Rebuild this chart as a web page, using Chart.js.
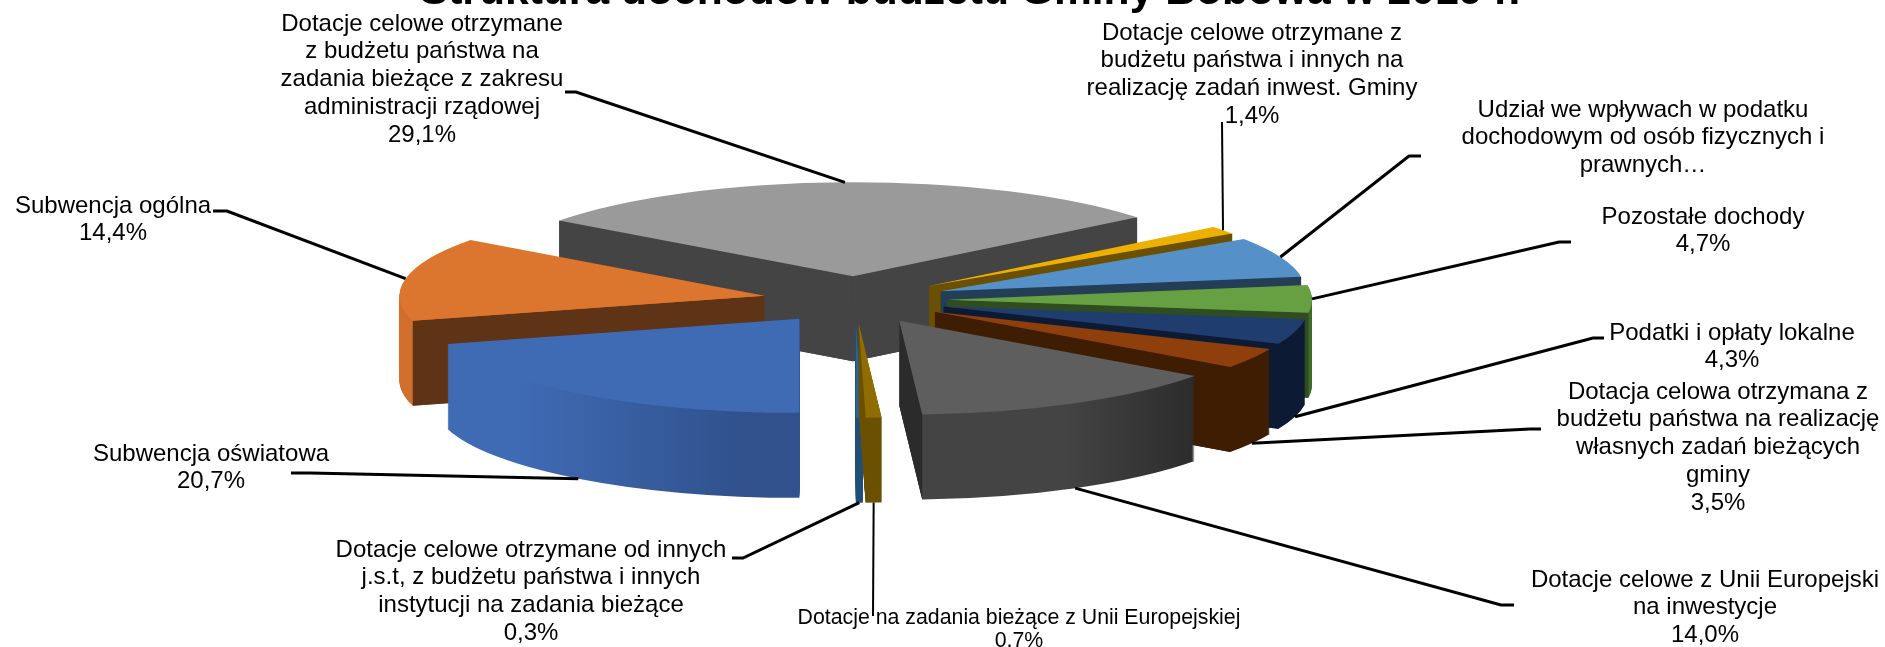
<!DOCTYPE html>
<html>
<head>
<meta charset="utf-8">
<script src="https://cdn.jsdelivr.net/npm/chart.js@4"></script>
<style>
    body { margin: 0; background: #fff; }
    canvas { display: block; }
</style>
</head>
<body>
<canvas id="pieChart" width="1885" height="647"></canvas>
<script>
const chartTitle = 'Struktura dochodów budżetu Gminy Bobowa w 2019 r.';

const categories = [
    'Subwencja oświatowa',
    'Subwencja ogólna',
    'Dotacje celowe otrzymane z budżetu państwa na zadania bieżące z zakresu administracji rządowej',
    'Dotacje celowe otrzymane z budżetu państwa i innych na realizację zadań inwest. Gminy',
    'Udział we wpływach w podatku dochodowym od osób fizycznych i prawnych',
    'Pozostałe dochody',
    'Podatki i opłaty lokalne',
    'Dotacja celowa otrzymana z budżetu państwa na realizację własnych zadań bieżących gminy',
    'Dotacje celowe z Unii Europejski na inwestycje',
    'Dotacje na zadania bieżące z Unii Europejskiej',
    'Dotacje celowe otrzymane od innych j.s.t, z budżetu państwa i innych instytucji na zadania bieżące'
];
const shares = [20.7, 14.4, 29.1, 1.4, 6.9, 4.7, 4.3, 3.5, 14.0, 0.7, 0.3];

// slice colours: top face, curved wall (left and right end), flat wall
const topColors = ['#3f6bb5', '#dc752d', '#9a9a9a', '#eeb000', '#5590c8', '#66a042', '#203d70', '#8f3f0c', '#5e5e5e', '#8f6d00', '#2a6496'];
const rimLeft = ['#3f6bb5', '#cf6f2b', '#444444', '#6a5000', '#243e55', '#3f6a2a', '#0c1b33', '#3f1d02', '#444444', '#6a5000', '#1f4e79'];
const rimRight = ['#30518c', '#cf6f2b', '#444444', '#6a5000', '#243e55', '#2f4d20', '#0c1b33', '#3f1d02', '#242424', '#6a5000', '#1f4e79'];
const wallColors = ['#30518c', '#5f3315', '#444444', '#6a5000', '#243e55', '#2f4d20', '#0c1b33', '#3f1d02', '#2b2b2b', '#6a5000', '#1f4e79'];

// back to front
const drawOrder = [2, 3, 4, 5, 6, 7, 8, 1, 0, 10, 9];

const centerY = 300;
const squash = 94 / 365;
const explode = 92;
const depth = 85;

// label lines, their centre and first line y, and where the leader leaves the label
const labelLines = [
    ['Subwencja oświatowa', '20,7%'],
    ['Subwencja ogólna', '14,4%'],
    ['Dotacje celowe otrzymane', 'z budżetu państwa na', 'zadania bieżące z zakresu', 'administracji rządowej', '29,1%'],
    ['Dotacje celowe otrzymane z', 'budżetu państwa i innych na', 'realizację zadań inwest. Gminy', '1,4%'],
    ['Udział we wpływach w podatku', 'dochodowym od osób fizycznych i', 'prawnych…'],
    ['Pozostałe dochody', '4,7%'],
    ['Podatki i opłaty lokalne', '4,3%'],
    ['Dotacja celowa otrzymana z', 'budżetu państwa na realizację', 'własnych zadań bieżących', 'gminy', '3,5%'],
    ['Dotacje celowe z Unii Europejski', 'na inwestycje', '14,0%'],
    ['Dotacje na zadania bieżące z Unii Europejskiej', '0,7%'],
    ['Dotacje celowe otrzymane od innych', 'j.s.t, z budżetu państwa i innych', 'instytucji na zadania bieżące', '0,3%']
];
const labelX = [211, 113, 422, 1252, 1643, 1703, 1732, 1718, 1705, 1019, 531];
const labelY = [454, 206, 24, 33, 110, 217, 333, 392, 580, 618, 550];
const labelFont = [24, 24, 24, 24, 24, 24, 24, 24, 24, 21.3, 24];
const leaderFrom = [
    [[291, 473], [310, 473]],
    [[213, 211], [227, 211]],
    [[565, 92], [576, 92]],
    [[1222, 122]],
    [[1421, 156], [1409, 156]],
    [[1571, 242], [1559, 242]],
    [[1604, 338], [1593, 338]],
    [[1541, 429], [1530, 429]],
    [[1514, 605], [1501, 605]],
    [[873, 616]],
    [[732, 558], [743, 558]]
];

// draws a copy of the arc with another fill, the arc element does the path itself
function fillArc(arc, ctx, fill) {
    const ghost = Object.create(arc);
    ghost.options = { backgroundColor: fill, borderWidth: 0, offset: 0, spacing: 0, circular: true, borderAlign: 'center' };
    ghost.draw(ctx);
}

const pie3d = {
    id: 'pie3d',
    beforeDatasetsDraw(chart) {
        const ctx = chart.ctx;
        const arcs = chart.getDatasetMeta(0).data;

        // moves the flat pie to its place on the ellipse, at a given drop below the top face
        const place = (arc, drop) => {
            const half = (arc.startAngle + arc.endAngle) / 2;
            ctx.translate(arc.x, centerY + drop);
            ctx.scale(1, squash);
            ctx.translate(-arc.x, -arc.y);
            ctx.translate(Math.cos(half) * explode, Math.sin(half) * explode);
        };

        drawOrder.forEach(i => {
            const arc = arcs[i];
            const half = (arc.startAngle + arc.endAngle) / 2;
            const shiftX = arc.x + Math.cos(half) * explode;
            const shiftY = centerY + Math.sin(half) * explode * squash;

            const rim = ctx.createLinearGradient(
                shiftX + arc.outerRadius * Math.min(Math.cos(arc.startAngle), Math.cos(arc.endAngle)), 0,
                shiftX + arc.outerRadius * Math.max(Math.cos(arc.startAngle), Math.cos(arc.endAngle)), 0);
            rim.addColorStop(0, rimLeft[i]);
            rim.addColorStop(0.35, rimLeft[i]);
            rim.addColorStop(1, rimRight[i]);

            // curved wall, stacked copies of the slice
            for (let drop = depth; drop > 0; drop -= 1) {
                ctx.save();
                place(arc, drop);
                fillArc(arc, ctx, rim);
                ctx.restore();
            }

            // flat walls, only the ones facing the viewer
            [arc.startAngle, arc.endAngle].forEach((angle, side) => {
                const facing = side === 0 ? Math.cos(angle) < 0 : Math.cos(angle) > 0;
                if (!facing) return;
                const edgeX = shiftX + Math.cos(angle) * arc.outerRadius;
                const edgeY = shiftY + Math.sin(angle) * arc.outerRadius * squash;
                ctx.fillStyle = wallColors[i];
                ctx.beginPath();
                ctx.moveTo(shiftX, shiftY);
                ctx.lineTo(edgeX, edgeY);
                ctx.lineTo(edgeX, edgeY + depth);
                ctx.lineTo(shiftX, shiftY + depth);
                ctx.closePath();
                ctx.fill();
            });

            ctx.save();
            place(arc, 0);
            fillArc(arc, ctx, topColors[i]);
            ctx.restore();
        });

        return false;
    },
    afterDraw(chart) {
        const ctx = chart.ctx;
        const arcs = chart.getDatasetMeta(0).data;

        // leader lines end in the middle of the slice rim
        arcs.forEach((arc, i) => {
            const half = (arc.startAngle + arc.endAngle) / 2;
            const reach = arc.outerRadius + explode;
            const endX = arc.x + Math.cos(half) * reach;
            let endY = centerY + Math.sin(half) * reach * squash;
            if (Math.sin(half) > 0) endY += depth;

            ctx.strokeStyle = '#000';
            ctx.lineWidth = leaderFrom[i].length > 1 ? 3 : 2;
            ctx.beginPath();
            leaderFrom[i].forEach((p, n) => n === 0 ? ctx.moveTo(p[0], p[1]) : ctx.lineTo(p[0], p[1]));
            ctx.lineTo(endX, endY);
            ctx.stroke();
        });

        ctx.fillStyle = '#000';
        ctx.textAlign = 'center';
        ctx.textBaseline = 'middle';
        labelLines.forEach((lines, i) => {
            ctx.font = labelFont[i] + 'px "Liberation Sans"';
            lines.forEach((line, n) => ctx.fillText(line, labelX[i], labelY[i] + n * (labelFont[i] === 24 ? 27.8 : 23)));
        });

        ctx.font = 'bold 42.6px "Liberation Sans"';
        ctx.textBaseline = 'alphabetic';
        ctx.fillText(chartTitle, 970, 4);
    }
};

new Chart(document.getElementById('pieChart'), {
    type: 'pie',
    data: {
        labels: categories,
        datasets: [{ data: shares, backgroundColor: topColors, borderWidth: 0, radius: 365 }]
    },
    options: {
        responsive: false,
        animation: false,
        rotation: 180,
        layout: { padding: { left: 0, right: 175, top: 0, bottom: 47 } },
        plugins: { legend: { display: false }, tooltip: { enabled: false } }
    },
    plugins: [pie3d]
});
</script>
</body>
</html>
